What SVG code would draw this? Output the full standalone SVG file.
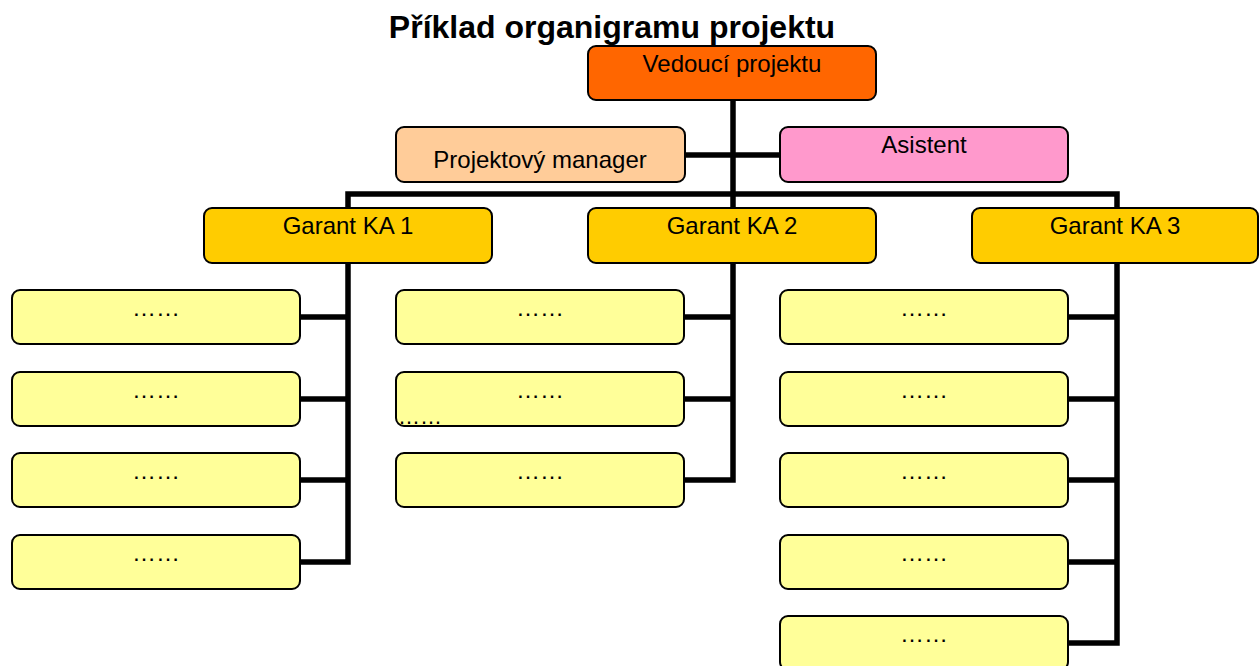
<svg xmlns="http://www.w3.org/2000/svg" width="1259" height="666" viewBox="0 0 1259 666">
<style>
.box{stroke:#000;stroke-width:2}
.lbl{font-family:"Liberation Sans",Arial,sans-serif;font-size:24px;fill:#000;text-anchor:middle}
.dots{font-family:"Liberation Sans",Arial,sans-serif;font-size:24px;fill:#000;text-anchor:middle}
.conn{fill:none;stroke:#000;stroke-width:5.5;stroke-linejoin:miter}
.ved{fill:#FF6600}.pm{fill:#FFCC99}.asi{fill:#FF99CC}.gar{fill:#FFCC00}.ch{fill:#FFFF99}
</style>
<rect width="1259" height="666" fill="#fff"/>
<text x="612" y="38" style="font-family:'Liberation Sans',Arial,sans-serif;font-size:32px;font-weight:bold;text-anchor:middle">Příklad organigramu projektu</text>
<g id="connectors">
<path class="conn" d="M733 100V208"/>
<path class="conn" d="M685 155H780"/>
<path class="conn" d="M348 208V194H1117V208"/>
<path class="conn" d="M348 263V562H300M300 317H348M300 399H348M300 480H348"/>
<path class="conn" d="M733 263V480H684M684 317H733M684 399H733"/>
<path class="conn" d="M1117 263V643H1068M1068 317H1117M1068 399H1117M1068 480H1117M1068 562H1117"/>
</g>
<g id="vedouci"><rect class="box ved" x="588" y="46" width="288" height="54" rx="8"/><text class="lbl" x="732" y="72">Vedoucí projektu</text></g>
<g id="manager"><rect class="box pm" x="396" y="127" width="289" height="55" rx="8"/><text class="lbl" x="540" y="168">Projektový manager</text></g>
<g id="asistent"><rect class="box asi" x="780" y="127" width="288" height="55" rx="8"/><text class="lbl" x="924" y="153">Asistent</text></g>
<g id="garant1"><rect class="box gar" x="204" y="208" width="288" height="55" rx="8"/><text class="lbl" x="348" y="234">Garant KA 1</text></g>
<g id="garant2"><rect class="box gar" x="588" y="208" width="288" height="55" rx="8"/><text class="lbl" x="732" y="234">Garant KA 2</text></g>
<g id="garant3"><rect class="box gar" x="972" y="208" width="286" height="55" rx="8"/><text class="lbl" x="1115" y="234">Garant KA 3</text></g>
<g id="c1r1"><rect class="box ch" x="12" y="290" width="288" height="54" rx="8"/><text class="dots" x="156" y="316">……</text></g>
<g id="c1r2"><rect class="box ch" x="12" y="372" width="288" height="54" rx="8"/><text class="dots" x="156" y="398">……</text></g>
<g id="c1r3"><rect class="box ch" x="12" y="453" width="288" height="54" rx="8"/><text class="dots" x="156" y="479">……</text></g>
<g id="c1r4"><rect class="box ch" x="12" y="535" width="288" height="54" rx="8"/><text class="dots" x="156" y="561">……</text></g>
<g id="c2r1"><rect class="box ch" x="396" y="290" width="288" height="54" rx="8"/><text class="dots" x="540" y="316">……</text></g>
<g id="c2r2"><rect class="box ch" x="396" y="372" width="288" height="54" rx="8"/><text class="dots" x="540" y="398">……</text><text x="398" y="424" style="font-family:'Liberation Sans',Arial,sans-serif;font-size:22px">……</text></g>
<g id="c2r3"><rect class="box ch" x="396" y="453" width="288" height="54" rx="8"/><text class="dots" x="540" y="479">……</text></g>
<g id="c3r1"><rect class="box ch" x="780" y="290" width="288" height="54" rx="8"/><text class="dots" x="924" y="316">……</text></g>
<g id="c3r2"><rect class="box ch" x="780" y="372" width="288" height="54" rx="8"/><text class="dots" x="924" y="398">……</text></g>
<g id="c3r3"><rect class="box ch" x="780" y="453" width="288" height="54" rx="8"/><text class="dots" x="924" y="479">……</text></g>
<g id="c3r4"><rect class="box ch" x="780" y="535" width="288" height="54" rx="8"/><text class="dots" x="924" y="561">……</text></g>
<g id="c3r5"><rect class="box ch" x="780" y="616" width="288" height="54" rx="8"/><text class="dots" x="924" y="642">……</text></g>
</svg>
